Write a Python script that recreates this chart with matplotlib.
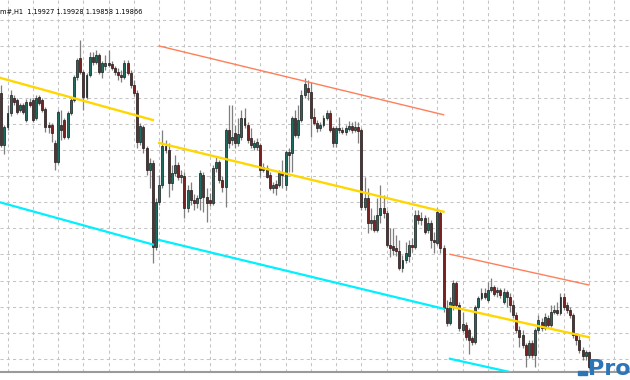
import matplotlib
matplotlib.use("Agg")
import matplotlib.pyplot as plt
import numpy as np

# H1 candles, prices in points (1e-5)
opens = [
    120962, 120754, 120826, 120882, 120942, 120934, 120894, 120914, 120854, 120926,
    120934, 120862, 120946, 120934, 120898, 120834, 120834, 120762, 120686, 120834,
    120854, 120786, 120882, 120934, 121026, 121102, 121046, 120946, 121034, 121106,
    121086, 121114, 121046, 121070, 121082, 121078, 121062, 121046, 121034, 121026,
    121082, 121042, 120994, 120962, 120766, 120826, 120742, 120654, 120682, 120346,
    120526, 120594, 120750, 120734, 120602, 120642, 120674, 120626, 120630, 120502,
    120574, 120534, 120522, 120542, 120634, 120546, 120534, 120522, 120662, 120686,
    120614, 120586, 120814, 120774, 120802, 120762, 120786, 120862, 120834, 120782,
    120746, 120746, 120754, 120654, 120662, 120634, 120582, 120598, 120594, 120642,
    120594, 120726, 120722, 120862, 120794, 120854, 120954, 120982, 120966, 120866,
    120842, 120822, 120834, 120862, 120882, 120822, 120762, 120822, 120814, 120806,
    120818, 120830, 120814, 120826, 120814, 120506, 120542, 120442, 120454, 120414,
    120474, 120502, 120482, 120354, 120350, 120342, 120330, 120262, 120294, 120310,
    120354, 120346, 120474, 120454, 120462, 120414, 120442, 120374, 120362, 120482,
    120342, 120102, 120042, 120114, 120202, 120114, 120014, 120034, 120014, 119982,
    119966, 120106, 120142, 120162, 120134, 120174, 120186, 120166, 120174, 120126,
    120166, 120146, 120114, 120074, 120014, 119994, 119954, 119914, 119962, 119914,
    120014, 120046, 120022, 120062, 120034, 120086, 120094, 120082, 120146, 120114,
    120094, 120074, 119994, 119974, 119934, 119910, 119927,
]
highs = [
    120994, 120834, 120914, 120974, 120954, 120942, 120922, 120922, 120938, 120942,
    120942, 120954, 120954, 120942, 120906, 120846, 120842, 120774, 120894, 120894,
    120862, 120890, 120942, 121034, 121102, 121174, 121054, 121042, 121126, 121126,
    121134, 121122, 121090, 121114, 121134, 121090, 121070, 121062, 121054, 121094,
    121094, 121054, 121014, 120974, 120842, 120834, 120750, 120702, 120694, 120542,
    120634, 120814, 120774, 120762, 120674, 120714, 120686, 120654, 120646, 120594,
    120606, 120558, 120554, 120654, 120646, 120582, 120562, 120674, 120706, 120694,
    120630, 120822, 120914, 120914, 120834, 120862, 120894, 120902, 120846, 120822,
    120774, 120782, 120762, 120682, 120674, 120646, 120606, 120614, 120654, 120694,
    120734, 120742, 120870, 120894, 120914, 120974, 121022, 121014, 121006, 120902,
    120854, 120846, 120874, 120894, 120894, 120830, 120830, 120866, 120826, 120834,
    120850, 120846, 120850, 120846, 120822, 120626, 120582, 120502, 120474, 120542,
    120594, 120554, 120494, 120422, 120422, 120394, 120374, 120314, 120366, 120374,
    120382, 120494, 120494, 120486, 120474, 120466, 120454, 120406, 120502, 120494,
    120354, 120134, 120146, 120214, 120210, 120126, 120086, 120046, 120022, 119990,
    120114, 120150, 120182, 120182, 120206, 120222, 120194, 120186, 120182, 120182,
    120174, 120162, 120134, 120086, 120030, 120014, 119962, 119974, 119974, 120022,
    120074, 120062, 120082, 120074, 120114, 120114, 120126, 120162, 120162, 120126,
    120106, 120082, 120002, 119994, 119946, 119934, 119928,
]
lows = [
    120746, 120718, 120814, 120870, 120914, 120878, 120886, 120878, 120846, 120906,
    120846, 120854, 120914, 120886, 120806, 120802, 120766, 120654, 120678, 120774,
    120778, 120778, 120874, 120926, 121014, 121038, 120894, 120938, 121026, 121074,
    121078, 121038, 121022, 121054, 121066, 121054, 121034, 121014, 121006, 121018,
    121034, 120982, 120950, 120742, 120754, 120722, 120634, 120582, 120282, 120334,
    120514, 120582, 120722, 120546, 120574, 120630, 120614, 120602, 120462, 120486,
    120514, 120494, 120502, 120494, 120486, 120446, 120510, 120514, 120646, 120602,
    120566, 120506, 120742, 120754, 120742, 120750, 120774, 120822, 120762, 120742,
    120734, 120734, 120626, 120646, 120622, 120574, 120562, 120554, 120586, 120582,
    120574, 120646, 120646, 120786, 120782, 120846, 120942, 120934, 120786, 120834,
    120806, 120810, 120826, 120854, 120806, 120746, 120746, 120802, 120798, 120794,
    120810, 120802, 120806, 120762, 120494, 120494, 120402, 120414, 120406, 120406,
    120442, 120462, 120346, 120306, 120314, 120310, 120254, 120246, 120282, 120286,
    120326, 120338, 120438, 120434, 120398, 120402, 120342, 120322, 120354, 120322,
    120086, 120030, 120034, 120094, 120102, 120010, 120006, 119974, 119918, 119954,
    119958, 120098, 120134, 120138, 120126, 120166, 120150, 120146, 120142, 120118,
    120106, 120086, 120062, 120002, 119946, 119942, 119866, 119902, 119902, 119866,
    120002, 120010, 120014, 120022, 120026, 120078, 120074, 120074, 120094, 120082,
    120062, 119982, 119954, 119922, 119894, 119894, 119858,
]
closes = [
    120754, 120826, 120882, 120954, 120926, 120886, 120914, 120886, 120926, 120914,
    120854, 120942, 120922, 120894, 120826, 120826, 120802, 120686, 120886, 120814,
    120786, 120882, 120934, 121026, 121094, 121046, 120946, 121034, 121106, 121086,
    121114, 121046, 121082, 121082, 121074, 121062, 121046, 121034, 121026, 121082,
    121042, 120994, 120962, 120766, 120830, 120742, 120654, 120682, 120346, 120526,
    120594, 120750, 120734, 120602, 120642, 120674, 120626, 120634, 120502, 120574,
    120534, 120522, 120542, 120642, 120546, 120522, 120522, 120662, 120686, 120614,
    120586, 120814, 120762, 120786, 120762, 120798, 120862, 120834, 120774, 120754,
    120762, 120766, 120654, 120666, 120626, 120582, 120594, 120582, 120642, 120634,
    120726, 120714, 120862, 120794, 120854, 120954, 120998, 120966, 120862, 120842,
    120822, 120834, 120862, 120882, 120814, 120762, 120822, 120814, 120806, 120822,
    120830, 120814, 120826, 120810, 120506, 120542, 120442, 120454, 120414, 120474,
    120502, 120482, 120354, 120342, 120334, 120330, 120262, 120294, 120322, 120354,
    120346, 120474, 120454, 120462, 120406, 120442, 120374, 120366, 120486, 120342,
    120102, 120042, 120126, 120202, 120114, 120022, 120038, 119986, 119974, 119966,
    120106, 120142, 120162, 120146, 120174, 120186, 120158, 120174, 120154, 120166,
    120146, 120114, 120074, 120014, 119986, 119954, 119914, 119962, 119914, 120014,
    120054, 120022, 120066, 120034, 120086, 120094, 120082, 120146, 120106, 120094,
    120074, 119994, 119974, 119934, 119910, 119926, 119866,
]

# regression channels: bar range, middle line price at both ends, half width
chan_start = [-1, 50, 142]
chan_end = [48, 140, 186]
chan_mid_start = [1.21025, 1.20762, 1.20108]
chan_mid_end = [1.20854, 1.20487, 1.19985]
chan_half = [0.00498, 0.00388, 0.00209]

title = "m#,H1  1.19927 1.19928 1.19858 1.19866"

o = np.array(opens) / 1e5
h = np.array(highs) / 1e5
l = np.array(lows) / 1e5
c = np.array(closes) / 1e5
idx = np.arange(len(o))

fig = plt.figure(figsize=(6.3, 3.8), dpi=100)
ax = fig.add_axes([0, 8 / 380, 1, 372 / 380])
ax.set_xlim(-0.38, 199.0)
ax.set_ylim(1.19846, 1.21334)

grid_kw = dict(color="#c4c4c4", linewidth=0.75, linestyle=(0, (3, 3)), zorder=0)
for xg in np.arange(2, 200, 8):
    ax.axvline(xg, **grid_kw)
for yg in np.arange(1.21256, 1.1985, -0.001044):
    ax.axhline(yg, **grid_kw)

up = c >= o
ax.vlines(idx, l, h, color="#7f7f7f", linewidth=0.9, zorder=2)
body_h = np.maximum(np.abs(c - o), 0.00003)
ax.bar(idx, body_h, bottom=np.minimum(o, c), width=0.62,
       color=np.where(up, "#1e6b60", "#7a2222"), edgecolor="#1a1a1a",
       linewidth=0.5, zorder=3)

for s, e, m0, m1, hw in zip(chan_start, chan_end, chan_mid_start, chan_mid_end, chan_half):
    ax.plot([s, e], [m0 + hw, m1 + hw], color="#ff7f5a", linewidth=1.0, zorder=4)
    ax.plot([s, e], [m0, m1], color="#ffd700", linewidth=1.7, zorder=4)
    ax.plot([s, e], [m0 - hw, m1 - hw], color="#00f0ff", linewidth=1.6, zorder=4)

for side in ("top", "left", "right"):
    ax.spines[side].set_visible(False)
ax.spines["bottom"].set_color("#9a9a9a")
ax.spines["bottom"].set_linewidth(1.5)
ax.set_xticks([])
ax.set_yticks([])

fig.text(0.0, 1 - 14 / 380, title, fontsize=4.8, color="black",
         va="baseline", ha="left")

# watermark logo in the bottom right corner
fig.patches.append(plt.Rectangle((578 / 630, 5 / 380), 9 / 630, 4 / 380,
                                 transform=fig.transFigure, color="#2e75b6", zorder=6))
fig.text(588 / 630, 5 / 380, "Pro", fontsize=16, fontweight="bold", color="#2e75b6",
         va="baseline", ha="left", zorder=6)

fig.savefig("out.png", dpi=100)
